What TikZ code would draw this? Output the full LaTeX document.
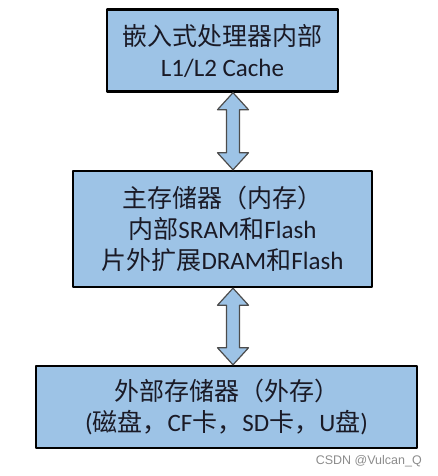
\documentclass[tikz,border=0pt]{standalone}
\usepackage{fontspec}
\setmainfont{Carlito}
\newfontfamily\cjk{Noto Sans CJK SC}
\newfontfamily\wmfont{Liberation Sans}
\definecolor{boxblue}{HTML}{9DC3E6}
\definecolor{inktext}{HTML}{1A1A26}
\usetikzlibrary{calc}
\begin{document}
\begin{tikzpicture}[x=1pt, y=-1pt, line join=round,
	memory/.style={draw=black, line width=2.4pt, fill=boxblue, align=center, inner sep=0pt, text=inktext, font=\fontsize{25}{31}\selectfont},
	link/.style={draw=black!70, line width=1.2pt, fill=boxblue}]
	\useasboundingbox (0,0) rectangle (437,476);
	\node[memory, minimum width=231, minimum height=82] (cache) at (222.5,50.5) {{\cjk 嵌入式处理器内部}\\L1/L2 Cache};
	\node[memory, minimum width=299, minimum height=116] (main) at (222.5,229) {{\cjk 主存储器（内存）}\\{\cjk 内部}SRAM{\cjk 和}Flash\\{\cjk 片外扩展}DRAM{\cjk 和}Flash};
	\node[memory, minimum width=381, minimum height=82] (ext) at (226.5,407) {{\cjk 外部存储器（外存）}\\({\cjk 磁盘，}CF{\cjk 卡，}SD{\cjk 卡，}U{\cjk 盘})};
	\foreach \u/\l in {cache/main,main/ext}
		\draw[link] let \p1=(\u.south), \p2=(\l.north) in
			(233pt,\y1)--(248.5pt,\y1-17pt)--(239.5pt,\y1-17pt)--(239.5pt,\y2+17pt)--(248.5pt,\y2+17pt)
			--(233pt,\y2)--(217.5pt,\y2+17pt)--(226.5pt,\y2+17pt)--(226.5pt,\y1-17pt)--(217.5pt,\y1-17pt)--cycle;
	\node[anchor=base east, inner sep=0pt, text=black!45, font=\wmfont\fontsize{12.5}{12.5}\selectfont] (mark) at (422,464) {CSDN @Vulcan\_Q};
\end{tikzpicture}
\end{document}
